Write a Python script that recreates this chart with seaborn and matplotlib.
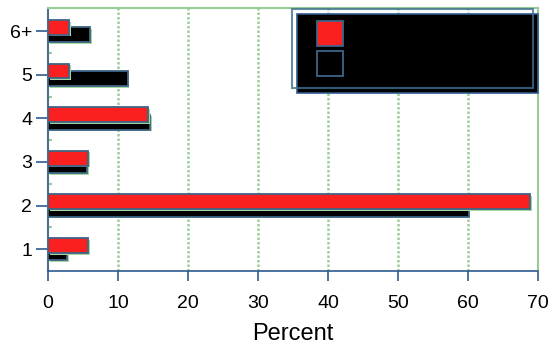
import matplotlib
matplotlib.use("Agg")
import matplotlib.pyplot as plt
import matplotlib.patheffects as pe
from matplotlib.patches import Rectangle
from matplotlib.transforms import IdentityTransform
from matplotlib.legend_handler import HandlerPatch
import seaborn as sns
import pandas as pd

categories = ["1", "2", "3", "4", "5", "6+"]
red_values = [5.7, 68.9, 5.7, 14.3, 3.0, 3.0]
black_values = [2.7, 60.1, 5.6, 14.6, 11.4, 6.0]
series_names = ["Series 1", "Series 2"]
x_ticks = [0, 10, 20, 30, 40, 50, 60, 70]

sns.set_theme(style="white")
plt.rcParams["font.family"] = ["Liberation Sans", "DejaVu Sans"]
plt.rcParams["text.color"] = "black"
plt.rcParams["axes.labelcolor"] = "black"
plt.rcParams["xtick.labelcolor"] = "black"
plt.rcParams["ytick.labelcolor"] = "black"

order = categories[::-1]
df_red = pd.DataFrame({"cat": categories, "val": red_values})
df_black = pd.DataFrame({"cat": categories, "val": black_values})

fig = plt.figure(figsize=(5.53, 3.45), dpi=100)
ax = fig.add_axes([48 / 553, 74 / 345, 490 / 553, 263 / 345])

edge = "#3d6585"
halo = [pe.SimplePatchShadow(offset=(1.2, -1.2), shadow_rgbFace="#a6d6a0", alpha=1.0), pe.Normal()]
bar_h = 0.34
off = 0.086

sns.barplot(data=df_black, y="cat", x="val", order=order, orient="h", color="black",
            width=bar_h, saturation=1, edgecolor=edge, linewidth=1.3, ax=ax, zorder=3)
n_black = len(ax.patches)
for p in ax.patches:
    p.set_y(p.get_y() + off)
    p.set_path_effects(halo)
sns.barplot(data=df_red, y="cat", x="val", order=order, orient="h", color="#fa2020",
            width=bar_h, saturation=1, edgecolor=edge, linewidth=1.3, ax=ax, zorder=4)
for p in ax.patches[n_black:]:
    p.set_y(p.get_y() - off)
    p.set_path_effects(halo)

ax.set_xlim(0, 70)
ax.set_ylim(5.5, -0.53)
ax.set_xticks(x_ticks)
ax.set_xticklabels([str(t) for t in x_ticks])
ax.set_ylabel("")
ax.set_xlabel("Percent", fontsize=17, labelpad=8, color="black")

for t in x_ticks[1:-1]:
    ax.axvline(t, color="#9ccf98", linestyle=(0, (1, 0.8)), linewidth=1.8, zorder=1)

ax.spines["left"].set_color("#4a7090")
ax.spines["left"].set_linewidth(1.5)
ax.spines["bottom"].set_color("#2f5a90")
ax.spines["bottom"].set_linewidth(1.2)
for s in ["top", "right"]:
    ax.spines[s].set_color("#98cc98")
    ax.spines[s].set_linewidth(1.5)

ax.tick_params(axis="y", which="major", length=8.5, width=1.2, color="#2f5a90",
               labelsize=14, pad=3, left=True, direction="out", labelcolor="black")
ax.tick_params(axis="x", which="major", length=7.5, width=1.2, color="#2f5a90",
               labelsize=14, pad=10, bottom=True, direction="out", labelcolor="black")
ax.set_yticks([i + 0.5 for i in range(5)], minor=True)
ax.tick_params(axis="y", which="minor", length=3, width=1.5, color="#98cc98", direction="in", left=True)


def shifted_box(legend, orig_handle, xdescent, ydescent, width, height, fontsize):
    return Rectangle((-xdescent + 0.7 * fontsize, -ydescent), width, height)


handles = [Rectangle((0, 0), 1, 1, facecolor="#fa2020", edgecolor=edge, linewidth=1.3),
           Rectangle((0, 0), 1, 1, facecolor="black", edgecolor=edge, linewidth=1.3)]
leg = ax.legend(handles, series_names, loc="upper left",
                bbox_to_anchor=(0.498, 0.70, 0.492, 0.296), mode="expand", borderaxespad=0,
                fontsize=13, handlelength=1.45, handleheight=1.75, labelspacing=0.25,
                borderpad=0.68, handletextpad=1.2, frameon=True, fancybox=False,
                labelcolor="black",
                handler_map={Rectangle: HandlerPatch(patch_func=shifted_box)})
frame = leg.get_frame()
frame.set_facecolor("none")
frame.set_edgecolor("#3f6f8f")
frame.set_linewidth(1.5)
leg.set_zorder(6)

fig.canvas.draw()
bb = leg.get_window_extent()
shadow = Rectangle((bb.x0 + 5, bb.y0 - 5), bb.width, bb.height, transform=IdentityTransform(),
                   facecolor="black", edgecolor="#2f5a90", linewidth=1.2, zorder=5.5, clip_on=False)
ax.add_artist(shadow)

fig.savefig("out.png", dpi=100)
